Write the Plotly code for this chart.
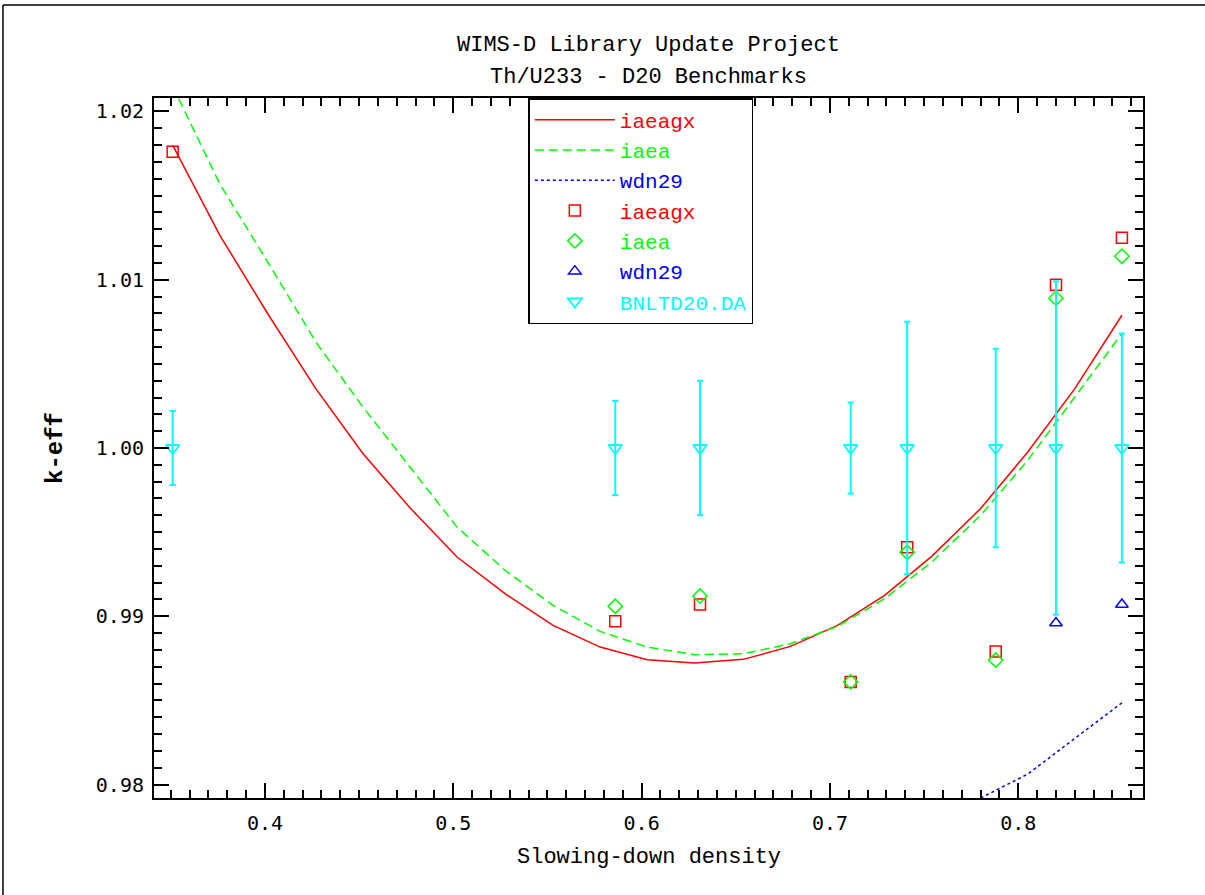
import plotly.graph_objects as go

# Slowing-down density grid of the calculated k-eff curves
sd_curve = [0.351, 0.376, 0.402, 0.427, 0.452, 0.477, 0.502, 0.528, 0.553, 0.578,
            0.603, 0.628, 0.654, 0.679, 0.704, 0.729, 0.754, 0.780, 0.805, 0.830, 0.855]
keff_iaeagx_curve = [1.0180, 1.01265, 1.00789, 1.00353, 0.99967, 0.99645, 0.99352,
                     0.99130, 0.98946, 0.98817, 0.98742, 0.98722, 0.98744, 0.98821,
                     0.98946, 0.99124, 0.99356, 0.99640, 0.99976, 1.00353, 1.00789]
keff_iaea_curve = [1.0215, 1.0157, 1.01096, 1.00630, 1.00244, 0.99890, 0.99530,
                   0.99269, 0.99065, 0.98910, 0.98817, 0.98772, 0.98777, 0.98837,
                   0.98940, 0.99104, 0.99322, 0.99600, 0.99927, 1.00303, 1.00680]
keff_wdn29_curve = [None, None, None, None, None, None, None, None, None, None,
                    None, None, None, None, None, None, None,
                    0.97920, 0.98062, 0.98274, 0.98486]

# Benchmark lattices (D20 moderated Th/U233)
sd_bench = [0.351, 0.586, 0.631, 0.711, 0.741, 0.788, 0.820, 0.855]
keff_iaeagx = [1.0176, 0.9897, 0.9907, 0.9861, 0.9941, 0.9879, 1.0097, 1.0125]
keff_iaea = [None, 0.9906, 0.9912, 0.9861, 0.9938, 0.9874, 1.0089, 1.0114]
keff_wdn29 = [None, None, None, None, None, None, 0.9896, 0.9907]
keff_exp = [1.0, 1.0, 1.0, 1.0, 1.0, 1.0, 1.0, 1.0]
keff_exp_err = [0.0022, 0.0028, 0.0040, 0.0027, 0.0075, 0.0059, 0.0099, 0.0068]

x_ticks = [0.4, 0.5, 0.6, 0.7, 0.8]
y_ticks = [0.98, 0.99, 1.00, 1.01, 1.02]

RED, GREEN, BLUE, CYAN = "#ff0000", "#00ff00", "#0000ff", "#00ffff"
MONO = "Liberation Mono"
NUM = "DejaVu Sans Mono"


def label(text, color):
    return f"<span style='color:{color}'>{text}</span>"


fig = go.Figure()

fig.add_trace(go.Scatter(x=sd_curve, y=keff_iaeagx_curve, mode="lines",
                         line=dict(color=RED, width=1.5),
                         name=label("iaeagx", RED)))
fig.add_trace(go.Scatter(x=sd_curve, y=keff_iaea_curve, mode="lines",
                         line=dict(color=GREEN, width=1.5, dash="9px,5px"),
                         name=label("iaea", GREEN)))
fig.add_trace(go.Scatter(x=sd_curve, y=keff_wdn29_curve, mode="lines",
                         line=dict(color=BLUE, width=1.5, dash="3px,3px"),
                         name=label("wdn29", BLUE)))

fig.add_trace(go.Scatter(x=sd_bench, y=keff_iaeagx, mode="markers",
                         marker=dict(symbol="square-open", size=11, color=RED,
                                     line=dict(width=1.5, color=RED)),
                         name=label("iaeagx", RED)))
fig.add_trace(go.Scatter(x=sd_bench, y=keff_iaea, mode="markers",
                         marker=dict(symbol="diamond-open", size=11, color=GREEN,
                                     line=dict(width=1.5, color=GREEN)),
                         name=label("iaea", GREEN)))
fig.add_trace(go.Scatter(x=sd_bench, y=keff_wdn29, mode="markers",
                         marker=dict(symbol="triangle-up-open", size=11, color=BLUE,
                                     line=dict(width=1.5, color=BLUE)),
                         name=label("wdn29", BLUE)))
fig.add_trace(go.Scatter(x=sd_bench, y=keff_exp, mode="markers",
                         marker=dict(symbol="triangle-down-open", size=12, color=CYAN,
                                     line=dict(width=1.8, color=CYAN)),
                         error_y=dict(type="data", array=keff_exp_err, color=CYAN,
                                      thickness=2, width=3),
                         name=label("BNLTD20.DA", CYAN)))

axis_common = dict(
    showline=True, linecolor="black", linewidth=2, mirror="ticks",
    ticks="inside", ticklen=15, tickwidth=2, tickcolor="black",
    showgrid=False, zeroline=False,
    tickfont=dict(family=NUM, size=20, color="black"),
)

fig.update_xaxes(range=[0.3411, 0.8662], tickvals=x_ticks,
                 ticktext=[f"{v:.1f}" for v in x_ticks],
                 minor=dict(dtick=0.01, tick0=0, ticks="inside", ticklen=8,
                            tickwidth=1.5, tickcolor="black"),
                 ticklabelstandoff=6, **axis_common)
fig.update_yaxes(range=[0.9792, 1.0208], tickvals=y_ticks,
                 ticktext=[f"{v:.2f}" for v in y_ticks],
                 minor=dict(dtick=0.001, tick0=0, ticks="inside", ticklen=8,
                            tickwidth=1.5, tickcolor="black"),
                 ticklabelstandoff=4, **axis_common)

fig.update_layout(
    width=1205, height=895,
    margin=dict(l=154, r=62, t=98, b=97),
    paper_bgcolor="white", plot_bgcolor="white",
    showlegend=True,
    legend=dict(x=0.3785, y=1.0, xanchor="left", yanchor="top",
                bgcolor="white", bordercolor="black", borderwidth=1.5,
                font=dict(family=MONO, size=21, color="black"),
                itemwidth=80, tracegroupgap=0, traceorder="normal"),
    annotations=[
        dict(text="WIMS-D Library Update Project", xref="paper", yref="paper",
             x=0.5, y=1.0757, xanchor="center", yanchor="middle", showarrow=False,
             font=dict(family=MONO, size=22, color="black")),
        dict(text="Th/U233 - D20 Benchmarks", xref="paper", yref="paper",
             x=0.5, y=1.0286, xanchor="center", yanchor="middle", showarrow=False,
             font=dict(family=MONO, size=22, color="black")),
        dict(text="Slowing-down density", xref="paper", yref="paper",
             x=0.5, y=-0.0848, xanchor="center", yanchor="middle", showarrow=False,
             font=dict(family=MONO, size=22, color="black")),
        dict(text="<b>k-eff</b>", xref="paper", yref="paper", textangle=-90,
             x=-0.1001, y=0.5, xanchor="center", yanchor="middle", showarrow=False,
             font=dict(family=MONO, size=24, color="black")),
    ],
    shapes=[
        # page frame: top and left edges
        dict(type="line", xref="paper", yref="paper", x0=-0.1527, x1=1.07,
             y0=1.1329, y1=1.1329, line=dict(color="black", width=1.5)),
        dict(type="line", xref="paper", yref="paper", x0=-0.1527, x1=-0.1527,
             y0=1.1329, y1=-0.15, line=dict(color="black", width=1.5)),
    ],
)

fig.write_html("out.html")
